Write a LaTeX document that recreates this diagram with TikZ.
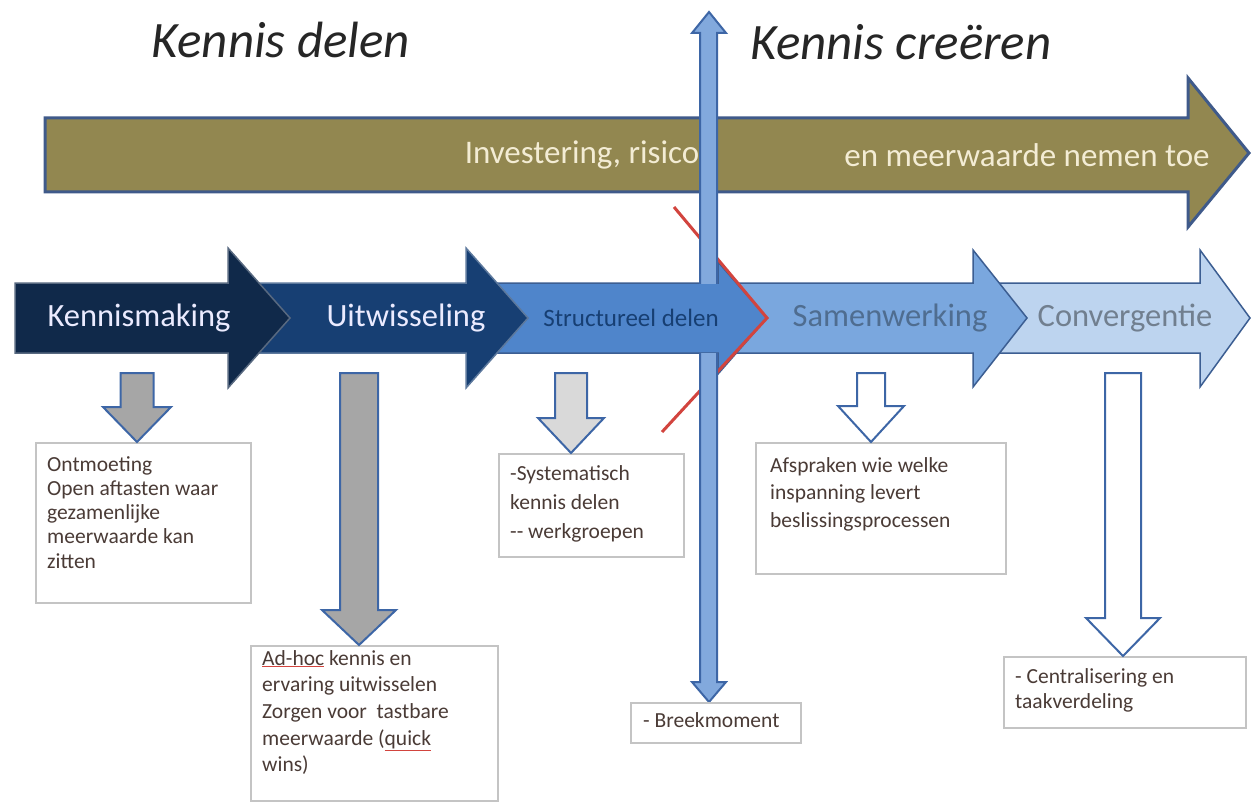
\documentclass[tikz,border=0pt]{standalone}
\usepackage{fontspec}
\setmainfont{Carlito}
\begin{document}
\begin{tikzpicture}[x=1pt,y=-1pt,
  olive/.style={fill=olivefill,draw=olivedraw,line width=3pt,line join=miter},
  chev/.style={draw=chevdraw,line width=1.5pt,line join=miter},
  varrow/.style={fill=vfill,draw=vdraw,line width=2pt,line join=miter},
  darr/.style={draw=vdraw,line width=2pt,line join=miter},
  box/.style={draw=boxdraw,line width=1.5pt,fill=white,inner sep=0pt,anchor=north west},
  btext/.style={anchor=north west,align=left,inner sep=0pt,text=boxtext,font=\fontsize{21.5}{24.3}\selectfont},
  title/.style={font=\fontsize{51}{55}\selectfont\itshape,text=black!85},
  chevtext/.style={font=\fontsize{32.5}{34}\selectfont},
  olivetxt/.style={font=\fontsize{33}{35}\selectfont,text=olivetext},
]
\definecolor{olivefill}{HTML}{928750}
\definecolor{olivedraw}{HTML}{3F5A8A}
\definecolor{olivetext}{HTML}{F3ECD4}
\definecolor{chevdraw}{HTML}{3C5E92}
\definecolor{vfill}{HTML}{82A9DD}
\definecolor{vdraw}{HTML}{3D66A6}
\definecolor{boxdraw}{HTML}{C4C4C4}
\definecolor{boxtext}{HTML}{4A3B36}
\definecolor{redl}{HTML}{D2443E}
\definecolor{cA}{HTML}{10294A}
\definecolor{cB}{HTML}{173F73}
\definecolor{cC}{HTML}{4F85CB}
\definecolor{cD}{HTML}{7AA7DE}
\definecolor{cE}{HTML}{BDD4EF}
\definecolor{gA}{HTML}{A6A6A6}
\definecolor{gB}{HTML}{D9D9D9}
\useasboundingbox[fill=white] (0,0) rectangle (1252,802);

% titles
\node[title] (t1) at (281,40) {Kennis delen};
\node[title] (t2) at (901,42) {Kennis creëren};

% olive arrow
\draw[olive] (45,118) -- (1188,118) -- (1188,78) -- (1249,153) -- (1188,227) -- (1188,192) -- (45,192) -- cycle;
\node[olivetxt] (o1) at (582,155) {Investering, risico};
\node[olivetxt] (o2) at (1027,155) {en meerwaarde nemen toe};

% chevrons (right to left)
\draw[chev,fill=cE] (973,283) -- (1200,283) -- (1200,250) -- (1250,318) -- (1200,387) -- (1200,353) -- (973,353) -- cycle;
\draw[chev,fill=cD] (716,283) -- (973,283) -- (973,250) -- (1027,318) -- (973,387) -- (973,353) -- (716,353) -- cycle;
\draw[chev,fill=cC] (466,283) -- (718,283) -- (718,262) -- (767,318) -- (718,374) -- (718,353) -- (466,353) -- cycle;
\draw[chev,fill=cB,draw=cB!70!white] (228,283) -- (466,283) -- (466,248) -- (528,318) -- (466,388) -- (466,353) -- (228,353) -- cycle;
\draw[chev,fill=cA,draw=cA!70!white] (15,283) -- (228,283) -- (228,248) -- (290,318) -- (228,388) -- (228,353) -- (15,353) -- cycle;

\node[chevtext,text=white!92!blue] (k1) at (139,318) {Kennismaking};
\node[chevtext,text=white!92!blue] (k2) at (406,318) {Uitwisseling};
\node[font=\fontsize{25}{27}\selectfont,text=cB] (k3) at (631,318) {Structureel delen};
\node[chevtext,text=black!35!cD] (k4) at (890,318) {Samenwerking};
\node[chevtext,text=black!40!cE] (k5) at (1125,318) {Convergentie};

% red break line
\draw[redl,line width=3pt,line join=miter] (674,207) -- (767,318) -- (662,432);

% vertical arrow, hidden within the chevron band
\foreach \ya/\yb in {0/283, 353/802}{
\begin{scope}
\clip (0,\ya) rectangle (1252,\yb);
\draw[varrow] (700,33) -- (692,33) -- (709,12) -- (726,33) -- (717,33) -- (717,682) -- (726,682) -- (709,702) -- (692,682) -- (700,682) -- cycle;
\end{scope}
}

% boxes
\node[box,minimum width=215pt,minimum height=160pt] (b1) at (35,442) {};
\node[btext] (bt1) at (47,456) {Ontmoeting\\Open aftasten waar\\gezamenlijke\\meerwaarde kan\\zitten};

\node[box,minimum width=247pt,minimum height=155pt] (b2) at (250,645) {};
\node[btext,font=\fontsize{21.5}{26.7}\selectfont] (bt2) at (262,650) {{\color{redl}\underline{\color{boxtext}Ad-hoc}} kennis en\\ervaring uitwisselen\\Zorgen voor~ tastbare\\meerwaarde ({\color{redl}\underline{\color{boxtext}quick}}\\wins)};

\node[box,minimum width=185pt,minimum height=103pt] (b3) at (498,453) {};
\node[btext,font=\fontsize{21.5}{29}\selectfont] (bt3) at (510,465) {-Systematisch\\kennis delen\\-{}- werkgroepen};

\node[box,minimum width=250pt,minimum height=131pt] (b4) at (755,442) {};
\node[btext,font=\fontsize{21.5}{27.5}\selectfont] (bt4) at (770,457) {Afspraken wie welke\\inspanning levert\\beslissingsprocessen};

\node[box,minimum width=242pt,minimum height=71pt] (b5) at (1003,656) {};
\node[btext,font=\fontsize{21.5}{25}\selectfont] (bt5) at (1015,668) {- Centralisering en\\taakverdeling};

\node[box,minimum width=170pt,minimum height=40pt] (b6) at (630,702) {};
\node[btext] (bt6) at (643,712) {- Breekmoment};

% small down arrows
\draw[darr,fill=gA] (120.5,373) -- (153.5,373) -- (153.5,407) -- (171,407) -- (137,442) -- (103,407) -- (120.5,407) -- cycle;
\draw[darr,fill=gA] (340,373) -- (378,373) -- (378,610) -- (396,610) -- (359,645) -- (322,610) -- (340,610) -- cycle;
\draw[darr,fill=gB] (555,373) -- (587,373) -- (587,418) -- (604,418) -- (571,453) -- (538,418) -- (555,418) -- cycle;
\draw[darr,fill=white] (857,373) -- (885,373) -- (885,406) -- (904,406) -- (871,442) -- (838,406) -- (857,406) -- cycle;
\draw[darr,fill=white] (1105,373) -- (1141,373) -- (1141,618) -- (1160,618) -- (1123,656) -- (1086,618) -- (1105,618) -- cycle;
\end{tikzpicture}
\end{document}
